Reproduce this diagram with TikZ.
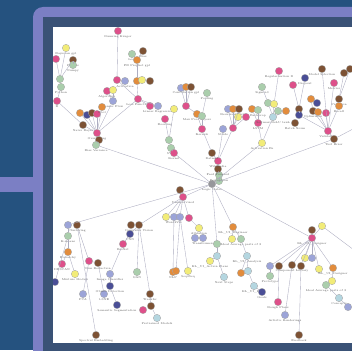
\documentclass[tikz,border=0pt]{standalone}
\usetikzlibrary{positioning}

\definecolor{cbg}{RGB}{37,82,127}
\definecolor{cfrm}{RGB}{123,127,196}
\definecolor{cslt}{RGB}{58,82,118}
\definecolor{cpk}{RGB}{222,80,138}
\definecolor{cbr}{RGB}{125,82,52}
\definecolor{cog}{RGB}{226,140,60}
\definecolor{cyl}{RGB}{242,236,120}
\definecolor{cgn}{RGB}{170,206,172}
\definecolor{clb}{RGB}{180,214,224}
\definecolor{cbl}{RGB}{156,164,216}
\definecolor{cdb}{RGB}{74,78,150}
\definecolor{cgy}{RGB}{150,150,155}
\definecolor{cedge}{RGB}{172,172,192}

\begin{document}
\begin{tikzpicture}[x=1pt, y=-1pt,
          vtx/.style={circle, draw=gray!70, line width=0.3pt, inner sep=0pt, minimum size=7.4pt},
          lbl/.style={font=\fontsize{2.8}{3}\selectfont, text=black!65, inner sep=0.3pt},
          edge/.style={draw=cedge, line width=0.35pt}
        ]
        \useasboundingbox (0,0) rectangle (352,350);
        % frame
        \fill[cbg] (0,0) rectangle (352,350);
        \fill[cfrm, rounded corners=10pt] (33,7) rectangle (390,390);
        \fill[cfrm] (0,177) rectangle (40,192);
        \fill[cslt] (43,17) rectangle (380,380);
        \fill[white] (53,27) rectangle (352,343);
        \begin{scope}
        \clip (53,27) rectangle (352,343);
        % vertices
        \foreach \n/\x/\y/\c/\t in {
            hub/212/184/cgy/Logic Gates, m16/219/181/cgn/, m15/219/175/cgn/Perceptron,
            m14/218/169/cbr/Feed Forward, m13/218/161/cpk/Wikipedia, m12/212/153/cbr/Dataset,
            m9/202/129/cpk/Kernels, m10/223/129/cbl/Stride, m11/233/128/cpk/,
            m1/181/88/cbl/, m2/186/87/cog/Convolution gpl, m3/191/87/cbr/, m4/207/93/cgn/Pooling,
            m5/186/106/cpk/, m7/197/114/cog/Max Pool Layers, m8/202/116/cgn/,
            n1/228/109/cbl/, n2/233/109/cog/Recurrent Nets, n3/239/109/cbr/, n4/238/117/cyl/,
            n5/246/117/cpk/, n6/252/109/cog/, n7/258/110/cgn/Backprop, n8/258/123/cpk/LSTM,
            n9/262/87/cgn/Sigmoid, n10/262/143/cyl/Activation Fn, n11/268/103/cgn/,
            n12/274/104/cyl/, n13/278/111/cgn/, n14/273/117/clb/Softmax ReLU tanh,
            n15/286/111/cog/, n16/279/71/cpk/Regularization Il,
            o1/293/85/cpk/, o2/305/78/cdb/Dropout, o3/311/99/cog/, o4/317/103/cdb/,
            o5/299/109/cbr/, o6/299/115/cdb/, o7/313/111/cbr/Optimizers, o8/318/112/cog/,
            o9/326/113/cpk/, o10/295/123/cbr/Batch Norm, o11/322/69/cbr/Model Selection,
            o12/334/83/cpk/Metrics, o13/344/73/cbr/, o14/350/69/cbr/, o15/339/99/cbr/Precision,
            o16/339/106/cog/Recall, o17/328/131/cpk/Validation, o18/334/139/cbr/Test Error,
            t1/118/31/cpk/Dunning Kruger, t2/132/54/cgn/Loss, t3/143/51/cbr/Bias,
            t4/137/60/cog/FB Prophet gpl, r1/117/80/cpk/, r2/125/81/cbl/Activation,
            r3/137/81/cog/, r4/142/80/cyl/, r5/150/81/cbr/,
            p1/107/91/cpk/Algorithm, p2/113/90/cyl/, p3/113/101/cbl/Tensor Flow,
            p4/138/99/cpk/Loss Function, p5/150/106/cpk/, p6/158/106/cbl/Linear Regression,
            p7/174/109/cyl/,
            q1/80/113/cog/, q2/87/115/cdb/, q3/92/113/cbr/, q4/97/114/cpk/, q5/102/107/cog/Pool,
            q6/83/125/cbr/Naive Bayes, u1/97/133/cpk/Overfitting, u2/99/140/cbr/,
            u3/96/145/cgn/Bias Variance,
            l1/66/48/cyl/Bayesian gpl, l2/56/59/cpk/, l3/73/60/cbr/Pandas, l4/73/65/cgn/Numpy,
            l5/60/79/cgn/, l6/61/87/cgn/Python, l7/57/101/cpk/R,
            c1/165/119/cpk/Boosting, c2/169/140/cgn/, c3/171/148/cgn/SVM, c4/174/153/cpk/Kernel,
            d1/68/225/cbl/, d2/77/225/cbr/Clustering, d3/68/236/cgn/K-means,
            d4/68/252/cog/Hierarchy, d5/62/264/cpk/DBSCAN, d6/75/274/cyl/Mixture Models,
            d7/55/282/cdb/, d8/89/261/cpk/, d9/98/263/cbr/Dim Reduction,
            d10/83/294/cbl/PCA, d11/104/294/cbl/t-SNE,
            d12/96/335/cbr/Spectral Embedding,
            e1/131/225/cbr/, e2/139/225/cbr/Computer Vision, e3/130/234/cdb/CNN,
            e4/123/244/cpk/ResNet, e5/110/274/cbl/Image Classifier, e6/110/286/cdb/Object Detection,
            e7/117/305/cdb/Semantic Segmentation, e8/137/272/cgn/GAN, e9/150/294/cbr/Transfer,
            e10/151/306/cbr/, e11/143/310/cpk/, e12/157/318/clb/Pretrained Models,
            f1/166/217/cyl/, f2/174/217/cbl/Word2Vec, f3/173/272/cog/NLP,
            g1/180/190/cbr/, g2/183/197/cpk/Unsupervised, g3/180/217/cbl/, g4/189/218/cpk/,
            g5/199/228/cyl/Attention, g6/195/238/cbl/, g7/203/238/cbl/Transformers,
            g8/176/271/cog/, g9/188/271/cyl/Seq2Seq,
            h1/233/227/cog/KL\_UI\_Engineer, h2/232/239/cyl/, h3/241/239/cgn/Ideal Average parts of 3,
            h4/217/244/cgn/, h5/217/256/clb/, h6/210/261/cyl/KL\_UI\_Action Plans,
            h7/224/277/clb/Next Steps, h8/247/256/clb/KL\_UI\_Analysis, h9/241/273/cog/,
            h10/248/271/clb/, h11/254/286/clb/KL\_UI\_Plans, h12/262/292/cdb/Goals,
            k1/312/230/cbr/, k2/312/238/cpk/KL\_UI\_Designer, k3/322/226/cyl/,
            k4/270/266/cbl/, k5/279/266/cbr/, k6/292/265/cbr/Component Library, k7/301/266/cbr/,
            k8/305/258/cyl/, k9/312/258/cbl/, k10/270/276/cgn/Prototype, k11/278/302/cpk/Rough Plans,
            k12/285/315/cbl/Artistic Renderings, k13/299/335/cbr/Feedback,
            k14/319/269/cyl/, k15/333/268/cog/KL\_UI\_Designer, k16/332/281/cyl/,
            k17/326/285/cgn/Ideal Average parts of 3, k18/339/298/clb/Concepts,
            k19/348/307/cbl/} {
          \node[vtx, fill=\c, label={[lbl]below:\t}] (\n) at (\x,\y) {};
        }
        \coordinate (kout) at (370,262);
        \coordinate (oout) at (370,120);
        % connectors
        \foreach \a/\b in {hub/m16, m16/m15, m15/m14, m14/m13, m13/m12, m12/m9, m13/m10, m13/m11,
            m9/m8, m9/m7, m5/m7, m5/m1, m5/m2, m5/m3, m4/m8,
            m11/n1, m11/n2, m11/n3, m11/n4, m11/n5,
            hub/n10, n10/n8, n8/n6, n8/n7, n10/n14, n14/n11, n14/n12, n14/n13, n14/n15,
            n12/n16, n11/n9,
            hub/o18, o18/o17, o17/o9, o17/o8, o17/o7, o17/o11, o17/o12, o17/o16, o16/o15,
            o15/o14, o15/o13, o7/o3, o7/o4, o17/o6, o6/o5, o5/o1, o5/o2, o6/o10,
            hub/u3, u3/u2, u2/u1, u1/q1, u1/q2, u1/q3, u1/q4, u1/q5, u1/q6, q6/l7,
            u1/p3, u1/p4, p3/p1, p3/p2, p4/r1, r1/t1, p4/r3, r3/t4, t4/t2, t4/t3,
            p4/p5, p4/p6, l7/l6, l6/l5, l5/l1, l5/l2, l5/l3, l3/l4,
            hub/c4, c4/c3, c3/c2, c2/c1, c2/p7,
            hub/d1, d1/d3, d3/d4, d4/d5, d4/d6, d3/d7, d2/d12, d2/d8, d8/d10, d8/d9, d9/d11,
            hub/g2, g2/g1, g2/e2, e2/e1, e2/e3, e3/e4, e4/e5, e5/e6, e6/e7, e2/e8, e2/e9,
            e9/e10, e10/e11, e10/e12, g2/f1, g2/f2, f2/f3, g2/g3, g2/g4, g4/g5, g5/g6,
            g5/g7, g3/g8, g3/g9,
            hub/h1, h1/h2, h1/h3, h3/h8, h8/h9, h8/h10, h10/h11, h11/h12, hub/h4, h4/h5,
            h5/h6, h5/h7,
            hub/k2, k2/k1, k2/k3, k2/k4, k2/k5, k2/k6, k2/k7, k2/k8, k2/k9, k2/k14, k2/k15,
            k4/k10, k5/k11, k6/k12, k7/k13, k15/k16, k16/k17, k17/k18, k18/k19,
            k3/kout, o18/oout} {
          \draw[edge] (\a) -- (\b);
        }
        \end{scope}
      \end{tikzpicture}
\end{document}
